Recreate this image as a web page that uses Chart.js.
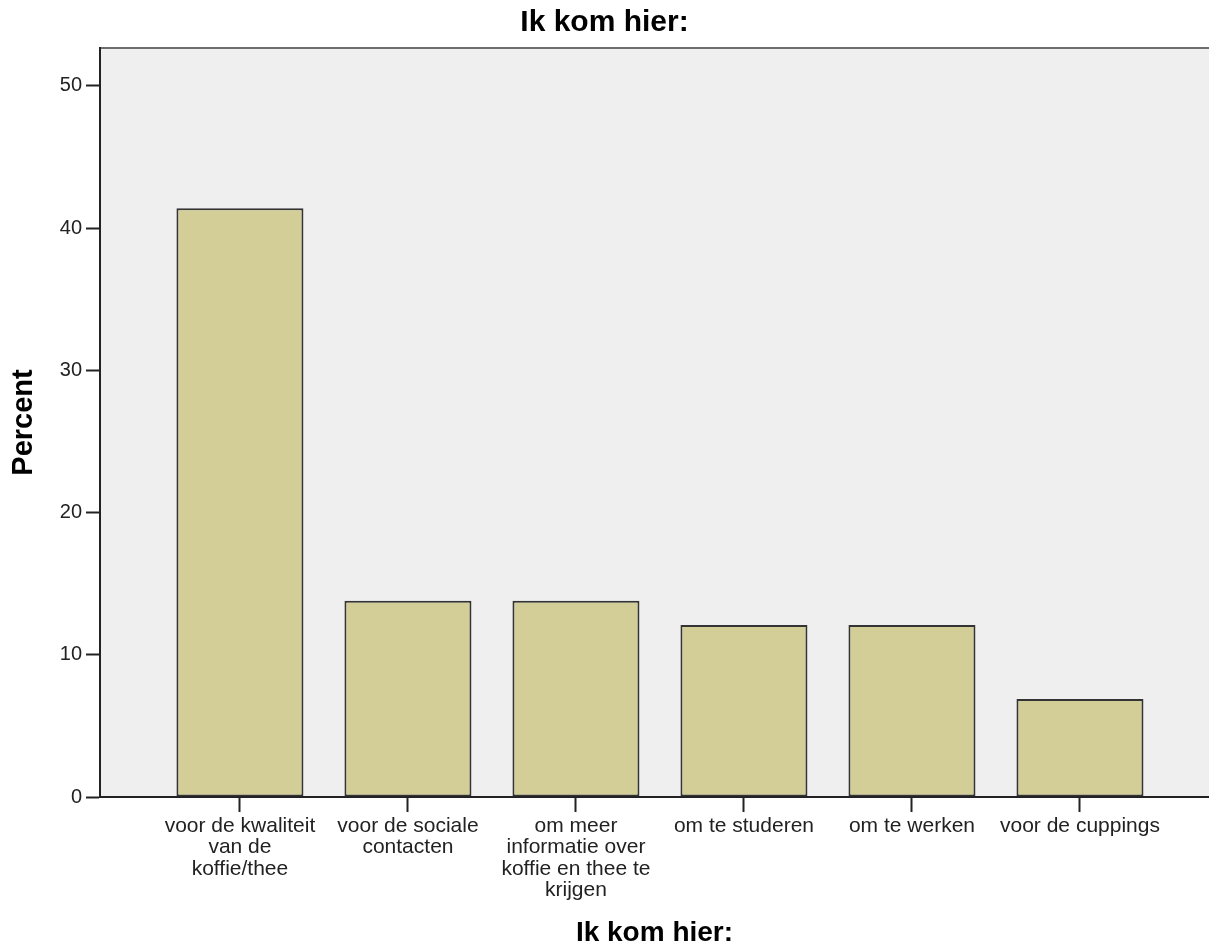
<!DOCTYPE html>
<html>
<head>
<meta charset="utf-8">
<script src="https://cdn.jsdelivr.net/npm/chart.js@4"></script>
<style>
  html, body { margin: 0; padding: 0; background: #fff; }
  #wrap { width: 1209px; height: 950px; }
</style>
</head>
<body>
<div id="wrap"><canvas id="chart" width="1209" height="950"></canvas></div>
<script>
// Chart data
const categories = [
    ["voor de kwaliteit", "van de", "koffie/thee"],
    ["voor de sociale", "contacten"],
    ["om meer", "informatie over", "koffie en thee te", "krijgen"],
    ["om te studeren"],
    ["om te werken"],
    ["voor de cuppings"]
];
const percents = [41.4, 13.8, 13.8, 12.1, 12.1, 6.9];
const yTicks = [0, 10, 20, 30, 40, 50];

const chartTitle = "Ik kom hier:";
const xTitle = "Ik kom hier:";
const yTitle = "Percent";

// grey plot background + top frame line
const plotBackground = {
    id: 'plotBackground',
    beforeDraw(chart) {
        const { ctx, chartArea: a } = chart;
        ctx.save();
        ctx.fillStyle = '#efefef';
        ctx.fillRect(a.left, a.top, a.right - a.left, a.bottom - a.top);
        ctx.strokeStyle = '#6e6e6e';
        ctx.lineWidth = 2;
        ctx.beginPath();
        ctx.moveTo(a.left, a.top);
        ctx.lineTo(a.right, a.top);
        ctx.stroke();
        ctx.restore();
    }
};

const font = 'Arial, "Liberation Sans", sans-serif';

const ctx = document.getElementById('chart').getContext('2d');
new Chart(ctx, {
    type: 'bar',
    data: {
        datasets: [{
            label: yTitle,
            data: categories.map((c, i) => ({ x: i, y: percents[i] })),
            backgroundColor: '#d3ce97',
            borderColor: '#333333',
            borderWidth: 2,
            borderSkipped: false,
            categoryPercentage: 1,
            barPercentage: 0.756
        }]
    },
    options: {
        responsive: false,
        animation: false,
        layout: { padding: 0 },
        plugins: {
            legend: { display: false },
            tooltip: { enabled: false },
            title: {
                display: true,
                text: chartTitle,
                color: '#000',
                font: { family: font, size: 30, weight: 'bold', lineHeight: 1.2 },
                padding: { top: 5, bottom: 7 }
            }
        },
        scales: {
            x: {
                type: 'linear',
                offset: false,
                min: -0.833,
                max: 5.768,
                afterBuildTicks: s => { s.ticks = categories.map((c, i) => ({ value: i })); },
                afterFit: s => { s.height = 153; },
                grid: {
                    offset: false,
                    drawOnChartArea: false,
                    drawTicks: true,
                    tickLength: 15,
                    tickColor: '#222',
                    tickWidth: 2
                },
                border: { display: true, color: '#222', width: 2 },
                ticks: {
                    autoSkip: false,
                    maxRotation: 0,
                    padding: 3,
                    color: '#222',
                    font: { family: font, size: 21, lineHeight: 1.025 },
                    callback: v => categories[v]
                },
                title: {
                    display: true,
                    text: xTitle,
                    color: '#000',
                    font: { family: font, size: 28, weight: 'bold', lineHeight: 1.2 },
                    padding: { top: 0, bottom: 0 }
                }
            },
            y: {
                min: 0,
                max: 52.67,
                afterBuildTicks: s => { s.ticks = yTicks.map(v => ({ value: v })); },
                afterFit: s => { s.width = 100; },
                grid: {
                    drawOnChartArea: false,
                    drawTicks: true,
                    tickLength: 14,
                    tickColor: '#222',
                    tickWidth: 2
                },
                border: { display: true, color: '#222', width: 2 },
                ticks: {
                    padding: 4,
                    color: '#222',
                    font: { family: font, size: 20 }
                },
                title: {
                    display: true,
                    text: yTitle,
                    color: '#000',
                    font: { family: font, size: 29, weight: 'bold', lineHeight: 1.2 },
                    padding: { top: 7, bottom: 0 }
                }
            }
        }
    },
    plugins: [plotBackground]
});
</script>
</body>
</html>
